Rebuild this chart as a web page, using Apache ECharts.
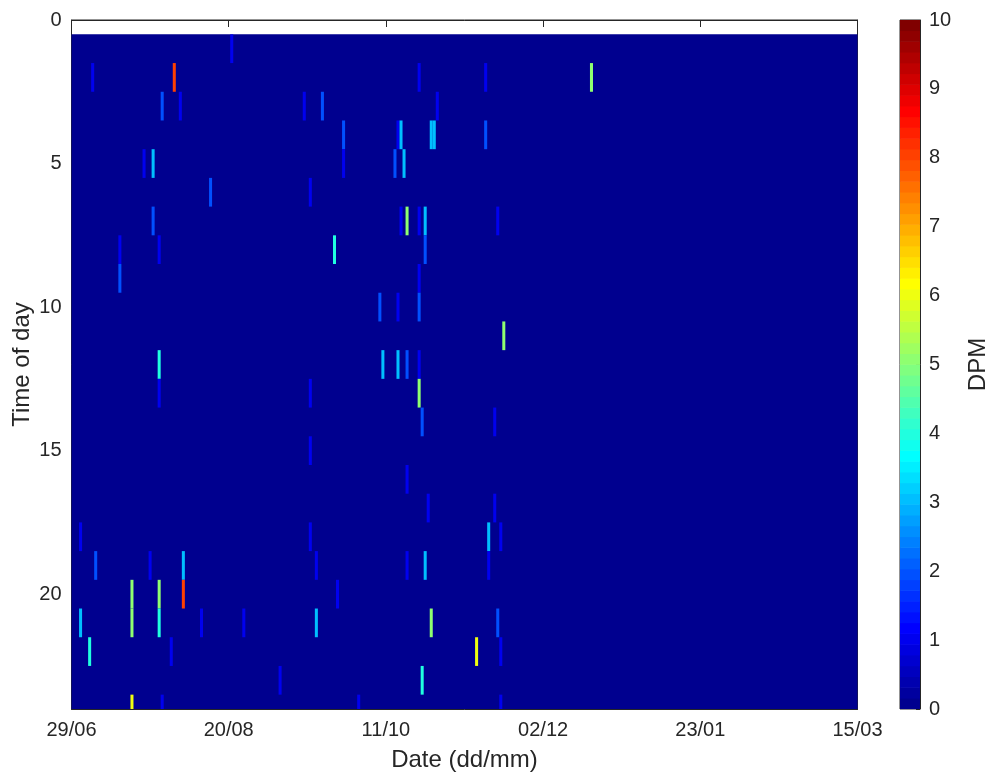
<!DOCTYPE html>
<html><head><meta charset="utf-8">
<script src="https://cdn.jsdelivr.net/npm/echarts@6/dist/echarts.min.js"></script>
<style>html,body{margin:0;padding:0;background:#fff}#c{width:992px;height:772px}</style>
</head><body><div id="c"></div>
<script>
// ---- data ----
const xTickLabels = ['29/06', '20/08', '11/10', '02/12', '23/01', '15/03'];
const tickStepDays = 52;                 // days between date ticks
const spanDays = [0, 260];               // deployment span, days since 29/06
const spanHours = [0.5, 24.5];           // hourly bins 1..24
const detDays  = [53, 7, 34, 115, 137, 172, 30, 36, 77, 83, 121, 90, 108, 109, 119, 120, 137, 24, 27, 90, 107, 110, 46, 79, 27, 109, 111, 115, 117, 141, 16, 29, 87, 117, 16, 115, 102, 108, 115, 143, 29, 103, 108, 111, 115, 29, 79, 115, 116, 140, 79, 111, 118, 140, 3, 79, 138, 142, 8, 26, 37, 81, 111, 117, 138, 20, 29, 37, 88, 3, 20, 29, 43, 57, 81, 119, 141, 6, 33, 134, 142, 69, 116, 20, 30, 95, 142];
const detHours = [1, 2, 2, 2, 2, 2, 3, 3, 3, 3, 3, 4, 4, 4, 4, 4, 4, 5, 5, 5, 5, 5, 6, 6, 7, 7, 7, 7, 7, 7, 8, 8, 8, 8, 9, 9, 10, 10, 10, 11, 12, 12, 12, 12, 12, 13, 13, 13, 14, 14, 15, 16, 17, 17, 18, 18, 18, 18, 19, 19, 19, 19, 19, 19, 19, 20, 20, 20, 20, 21, 21, 21, 21, 21, 21, 21, 21, 22, 22, 22, 22, 23, 23, 24, 24, 24, 24];
const detDPM   = [1, 1, 8, 1, 1, 5, 2, 1, 1, 2, 1, 2, 1, 3, 3, 3, 2, 1, 3, 1, 2, 3, 2, 1, 2, 1, 5, 1, 3, 1, 1, 1, 4, 2, 2, 1, 2, 1, 2, 5, 4, 3, 3, 2, 1, 1, 1, 5, 2, 1, 1, 1, 1, 1, 1, 1, 3, 1, 2, 1, 3, 1, 1, 3, 1, 5, 5, 8, 1, 3, 5, 4, 1, 1, 3, 5, 2, 4, 1, 6, 1, 1, 4, 6, 1, 1, 1];
const cRange = [0, 10];
const nColors = 64;

// ---- MATLAB jet(64) ----
function u(j) { if (j < 1 || j > 47) return 0; if (j <= 16) return j / 16; if (j <= 31) return 1; return (48 - j) / 16; }
function jetRow(k) { // k = 1..64
  const r = u(k - 24), g = u(k - 8), b = u(k + 8);
  return 'rgb(' + Math.round(r * 255) + ',' + Math.round(g * 255) + ',' + Math.round(b * 255) + ')';
}
function jetColor(v) {
  let k = Math.floor((v - cRange[0]) / (cRange[1] - cRange[0]) * nColors) + 1;
  k = Math.max(1, Math.min(nColors, k));
  return jetRow(k);
}

const detData = detDays.map((d, i) => [d, detHours[i], detDPM[i]]);
const bgData = [[spanDays[0], spanDays[1], spanHours[0], spanHours[1], 0]];
const barData = [];
for (let k = 0; k < nColors; k++) barData.push([k]);

function rectFrom(p0, p1) {
  return { x: Math.min(p0[0], p1[0]), y: Math.min(p0[1], p1[1]), width: Math.abs(p1[0] - p0[0]), height: Math.abs(p1[1] - p0[1]) };
}

const axColor = '#262626';
const font = "'Liberation Sans', Helvetica, Arial, sans-serif";
const tickFs = 20, nameFs = 24;
const chart = echarts.init(document.getElementById('c'), null, { renderer: 'canvas' });

chart.setOption({
  animation: false,
  backgroundColor: '#fff',
  grid: [
    { left: 71.5, right: 134.5, top: 20, bottom: 63, containLabel: false, outerBoundsMode: 'none',
      show: true, borderColor: axColor, borderWidth: 1, backgroundColor: '#fff' },
    { left: 900, width: 20, top: 20, bottom: 63, containLabel: false, outerBoundsMode: 'none',
      show: true, borderColor: axColor, borderWidth: 1 }
  ],
  xAxis: [
    { gridIndex: 0, type: 'value', position: 'bottom', min: spanDays[0], max: spanDays[1], interval: tickStepDays,
      name: 'Date (dd/mm)', nameLocation: 'middle', nameGap: 39, nameMoveOverlap: false,
      nameTextStyle: { color: axColor, fontSize: nameFs, fontFamily: font },
      axisLine: { onZero: false, lineStyle: { color: axColor } },
      axisTick: { inside: true, length: 7, lineStyle: { color: axColor } },
      axisLabel: { color: axColor, fontSize: tickFs, fontFamily: font, margin: 11,
        formatter: v => xTickLabels[Math.round((v - spanDays[0]) / tickStepDays)] || '' },
      splitLine: { show: false } },
    { gridIndex: 0, type: 'value', position: 'top', min: spanDays[0], max: spanDays[1], interval: tickStepDays,
      axisLine: { onZero: false, lineStyle: { color: axColor } },
      axisTick: { inside: true, length: 7, lineStyle: { color: axColor } },
      axisLabel: { show: false }, splitLine: { show: false } },
    { gridIndex: 1, type: 'value', min: 0, max: 1, show: false, axisLine: { onZero: false } }
  ],
  yAxis: [
    { gridIndex: 0, type: 'value', inverse: true, min: 0, max: 24, interval: 5, position: 'left',
      name: 'Time of day', nameLocation: 'middle', nameGap: 37, nameMoveOverlap: false,
      nameTextStyle: { color: axColor, fontSize: nameFs, fontFamily: font },
      axisLine: { onZero: false, lineStyle: { color: axColor } },
      axisTick: { inside: true, length: 7, lineStyle: { color: axColor } },
      axisLabel: { color: axColor, fontSize: tickFs, fontFamily: font, margin: 10, showMaxLabel: false,
        formatter: v => (v % 5 === 0 ? String(v) : '') },
      splitLine: { show: false } },
    { gridIndex: 0, type: 'value', inverse: true, min: 0, max: 24, interval: 5, position: 'right',
      axisLine: { onZero: false, lineStyle: { color: axColor } },
      axisTick: { inside: true, length: 7, lineStyle: { color: axColor } },
      axisLabel: { show: false }, splitLine: { show: false } },
    { gridIndex: 1, type: 'value', min: cRange[0], max: cRange[1], interval: 1, position: 'right',
      name: 'DPM', nameLocation: 'middle', nameGap: 46, nameRotate: 90, nameMoveOverlap: false,
      nameTextStyle: { color: axColor, fontSize: nameFs, fontFamily: font },
      axisLine: { show: true, onZero: false, lineStyle: { color: axColor } },
      axisTick: { show: true, inside: true, length: 4, lineStyle: { color: axColor } },
      axisLabel: { color: axColor, fontSize: tickFs, fontFamily: font, margin: 9 },
      splitLine: { show: false } }
  ],
  series: [
    { type: 'custom', name: 'no detection', xAxisIndex: 0, yAxisIndex: 0, clip: true, silent: true,
      data: bgData, encode: { x: [0, 1], y: [2, 3] },
      renderItem: (params, api) => {
        const p0 = api.coord([api.value(0), api.value(2)]);
        const p1 = api.coord([api.value(1), api.value(3)]);
        return { type: 'rect', shape: rectFrom(p0, p1), style: { fill: jetColor(api.value(4)) } };
      } },
    { type: 'custom', name: 'DPM', xAxisIndex: 0, yAxisIndex: 0, clip: true, silent: true,
      data: detData, encode: { x: 0, y: 1 },
      renderItem: (params, api) => {
        const d = api.value(0), h = api.value(1);
        const p0 = api.coord([d - 0.5, h - 0.5]);
        const p1 = api.coord([d + 0.5, h + 0.5]);
        return { type: 'rect', shape: rectFrom(p0, p1), style: { fill: jetColor(api.value(2)) } };
      } },
    { type: 'custom', name: 'colorbar', xAxisIndex: 2, yAxisIndex: 2, clip: true, silent: true,
      data: barData, encode: { y: 0 },
      renderItem: (params, api) => {
        const k = api.value(0);
        const step = (cRange[1] - cRange[0]) / nColors;
        const p0 = api.coord([0, cRange[0] + k * step]);
        const p1 = api.coord([1, cRange[0] + (k + 1) * step]);
        const r = rectFrom(p0, p1);
        r.y -= 0.3; r.height += 0.6;
        return { type: 'rect', shape: r, style: { fill: jetRow(k + 1) } };
      } }
  ]
});
</script></body></html>
